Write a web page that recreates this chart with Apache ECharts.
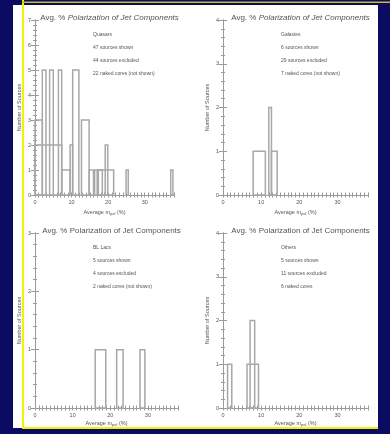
<!DOCTYPE html>
<html><head><meta charset="utf-8">
<script src="https://cdn.jsdelivr.net/npm/echarts@6/dist/echarts.min.js"></script>
<style>html,body{margin:0;padding:0;background:#0b0b62;}#c{width:390px;height:434px;}</style>
</head><body><div id="c"></div>
<script>
// Each bar: [xStart, xEnd, count]
const quasarBars = [[0,2,3],[0,7.3,2],[2,3,5],[4,5,5],[6.4,7.3,5],[7.3,9.6,1],[9.6,10.3,2],[10.3,12,5],[12.7,14.8,3],[14.8,16,1],[16.3,17,1],[17.3,21.5,1],[17.3,18.4,1],[19.2,19.9,2],[24.9,25.5,1],[37.1,37.7,1]];
const galaxyBars = [[7.9,11.1,1],[12.0,12.7,2],[12.7,14.2,1]];
const bllacBars = [[16.0,18.8,1],[21.7,23.4,1],[27.9,29.2,1]];
const otherBars = [[1.2,2.3,1],[6.3,9.3,1],[7.1,8.3,2]];
const xTickLabels = [0, 10, 20, 30];
const yMax = [7, 4, 3, 4];
const xMax = 38;
const panelTitle = 'Avg. % Polarization of Jet Components';
const legends = [
  ['Quasars','47 sources shown','44 sources excluded','22 naked cores (not shown)'],
  ['Galaxies','6 sources shown','29 sources excluded','7 naked cores (not shown)'],
  ['BL Lacs','5 sources shown','4 sources excluded','2 naked cores (not shown)'],
  ['Others','5 sources shown','11 sources excluded','6 naked cores']
];
const allBars = [quasarBars, galaxyBars, bllacBars, otherBars];

const grids = [
  {left:35, top:20, width:139, height:175},
  {left:223, top:20, width:145, height:175},
  {left:35, top:233, width:143, height:175},
  {left:223, top:233, width:145, height:175}
];
const FONT = 'Liberation Sans, Arial, sans-serif';
const TXT = '#555';
const AX = '#9a9a9a';

const xAxes = [], yAxes = [], series = [], titles = [], graphics = [];
grids.forEach((g, i) => {
  g.show = false;
  const common = {gridIndex:i, type:'value', min:0, max:xMax, interval:1,
    axisLine:{show:true, lineStyle:{color:AX, width:1}},
    axisTick:{show:true, inside:true, length:2.5, lineStyle:{color:AX}},
    splitLine:{show:false}};
  xAxes.push(Object.assign({}, common, {position:'bottom',
    name:'Average m{s|pol} (%)', nameLocation:'middle', nameGap: i < 2 ? 13 : 11,
    nameTextStyle:{color:TXT, fontSize:5.5, fontFamily:FONT, rich:{s:{fontSize:4, padding:[4,0,0,0], color:TXT, fontFamily:FONT}}},
    axisLabel:{color:TXT, fontSize:5.5, fontFamily:FONT, margin:4, customValues:xTickLabels}}));
  xAxes.push(Object.assign({}, common, {position:'top', axisLabel:{show:false}}));
  const ycommon = {gridIndex:i, type:'value', min:0, max:yMax[i], interval:1,
    axisLine:{show:true, lineStyle:{color:AX, width:1}},
    axisTick:{show:true, inside:true, length:4, lineStyle:{color:AX}},
    minorTick:{show:true, splitNumber:5, length:2, lineStyle:{color:AX}},
    splitLine:{show:false}};
  yAxes.push(Object.assign({}, ycommon, {position:'left',
    name:'Number of Sources', nameLocation:'middle', nameGap:13, nameRotate:90,
    nameTextStyle:{color:TXT, fontSize:5.5, fontFamily:FONT},
    axisLabel:{color:TXT, fontSize:5.5, fontFamily:FONT, margin:4}}));
  yAxes.push(Object.assign({}, ycommon, {position:'right', axisLabel:{show:false}}));
  series.push({
    type:'custom', xAxisIndex:2*i, yAxisIndex:2*i,
    encode:{x:[0,1], y:2},
    data: allBars[i],
    renderItem:function(params, api){
      const p0 = api.coord([api.value(0), 0]);
      const p1 = api.coord([api.value(1), api.value(2)]);
      return {type:'rect', shape:{x:p0[0], y:p1[1], width:p1[0]-p0[0], height:p0[1]-p1[1]},
        style:{fill:'none', stroke:'#a8a8a8', lineWidth:1.5}};
    },
    silent:true, z:5
  });
  const cx = g.left + g.width/2;
  titles.push({
    text: i < 2 ? '{n|Avg. % }{it|Polarization of Jet Components}' : panelTitle,
    left: cx, top: g.top - 11, textAlign:'center',
    textStyle:{color:TXT, fontSize:8, fontWeight:'normal', fontFamily:FONT,
      rich:{n:{fontSize:8, color:TXT, fontFamily:FONT}, it:{fontSize:8, fontStyle:'italic', color:TXT, fontFamily:FONT}}}
  });
  legends[i].forEach((t, k) => {
    graphics.push({type:'text', left: g.left + 58, top: g.top + 12 + k*13,
      style:{text:t, fill:TXT, font:'5px ' + FONT}, z:10});
  });
});

const chart = echarts.init(document.getElementById('c'), null, {renderer:'canvas'});
chart.setOption({
  backgroundColor:'#0b0b62',
  animation:false,
  title: titles,
  grid: grids,
  xAxis: xAxes,
  yAxis: yAxes,
  series: series,
  graphic: [
    {type:'rect', shape:{x:13, y:5, width:365, height:423}, style:{fill:'#ffffff'}, z:-10, silent:true},
    {type:'rect', shape:{x:22, y:0, width:2, height:429}, style:{fill:'#f2f200'}, z:-5, silent:true},
    {type:'rect', shape:{x:22, y:1.5, width:368, height:1.5}, style:{fill:'#c8c020'}, z:-5, silent:true},
    {type:'rect', shape:{x:22, y:427, width:356, height:2}, style:{fill:'#f2f200'}, z:-5, silent:true}
  ].concat(graphics)
});
</script></body></html>
